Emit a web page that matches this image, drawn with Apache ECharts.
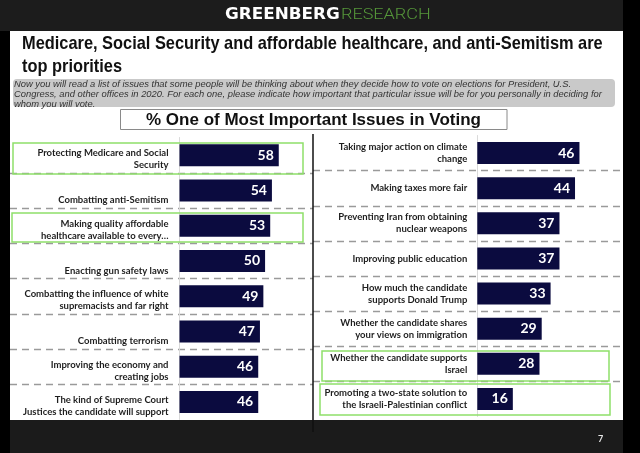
<!DOCTYPE html>
<html>
<head>
<meta charset="utf-8">
<title>Most Important Issues in Voting</title>
<script src="https://cdn.jsdelivr.net/npm/echarts@6/dist/echarts.min.js"></script>
<style>
  html, body { margin: 0; padding: 0; background: #000; }
  #chart { width: 640px; height: 453px; }
</style>
</head>
<body>
<div id="chart"></div>
<script>
// left column, top to bottom
const leftIssues = [
  'Protecting Medicare and Social\nSecurity',
  'Combatting anti-Semitism',
  'Making quality affordable\nhealthcare available to every…',
  'Enacting gun safety laws',
  'Combatting the influence of white\nsupremacists and far right',
  'Combatting terrorism',
  'Improving the economy and\ncreating jobs',
  'The kind of Supreme Court\nJustices the candidate will support'
];
const leftValues = [58, 54, 53, 50, 49, 47, 46, 46];

// right column, top to bottom
const rightIssues = [
  'Taking major action on climate\nchange',
  'Making taxes more fair',
  'Preventing Iran from obtaining\nnuclear weapons',
  'Improving public education',
  'How much the candidate\nsupports Donald Trump',
  'Whether the candidate shares\nyour views on immigration',
  'Whether the candidate supports\nIsrael',
  'Promoting a two-state solution to\nthe Israeli-Palestinian conflict'
];
const rightValues = [46, 44, 37, 37, 33, 29, 28, 16];

const titleLines = [
  'Medicare, Social Security and affordable healthcare, and anti-Semitism are',
  'top priorities'
];
const questionText = [
  'Now you will read a list of issues that some people will be thinking about when they decide how to vote on elections for President, U.S.',
  'Congress, and other offices in 2020. For each one, please indicate how important that particular issue will be for you personally in deciding for',
  'whom you will vote.'
].join('\n');
const chartHeading = '% One of Most Important Issues in Voting';

const BAR = '#0b0b3f';
const GREEN = '#8fe06a';
const ARIAL = "'Liberation Sans', Arial, sans-serif";
const LABEL_FONT = "Lato, 'Open Sans', sans-serif";

const chart = echarts.init(document.getElementById('chart'));

// bar grids start right at the bars, the dash grids span the whole half
const leftTop = 137.5, rightTop = 135.5;

function labelAxis(gridIndex, data, margin, fmt) {
  return {
    type: 'category',
    gridIndex: gridIndex,
    data: data,
    inverse: true,
    axisTick: { show: false },
    axisLine: { show: true, lineStyle: { color: '#dadada', width: 1 } },
    axisLabel: {
      margin: margin,
      color: '#1e1e1e',
      fontFamily: LABEL_FONT,
      fontWeight: 'bold',
      fontSize: 9.5,
      lineHeight: 12,
      align: 'right',
      formatter: fmt,
      rich: {
        g8: { fontSize: 1, lineHeight: 8 },
        g20: { fontSize: 1, lineHeight: 20 }
      }
    },
    splitLine: { show: false }
  };
}

function dashAxis(gridIndex, data) {
  return {
    type: 'category',
    gridIndex: gridIndex,
    data: data,
    inverse: true,
    axisTick: { show: false },
    axisLine: { show: false },
    axisLabel: { show: false },
    splitLine: {
      show: true,
      showMinLine: false,
      showMaxLine: false,
      lineStyle: { color: '#9a9a9a', width: 1.3, type: [7, 5] }
    }
  };
}

function barSeries(idx, values) {
  return {
    type: 'bar',
    xAxisIndex: idx,
    yAxisIndex: idx,
    data: values,
    barWidth: 22,
    itemStyle: { color: BAR },
    label: {
      show: true,
      position: 'insideRight',
      distance: 5,
      color: '#fff',
      fontFamily: LABEL_FONT,
      fontWeight: 'bold',
      fontSize: 14
    },
    silent: true
  };
}

chart.setOption({
  backgroundColor: '#000',
  animation: false,
  grid: [
    { left: 179.5, top: leftTop, width: 133.5, height: 282, outerBoundsMode: 'none' },
    { left: 477.3, top: rightTop, width: 145.7, height: 281, outerBoundsMode: 'none' },
    { left: 10, top: leftTop, width: 303, height: 282, outerBoundsMode: 'none' },
    { left: 313, top: rightTop, width: 310, height: 281, outerBoundsMode: 'none' }
  ],
  xAxis: [
    { type: 'value', gridIndex: 0, min: 0, max: 78, show: false },
    { type: 'value', gridIndex: 1, min: 0, max: 65.6, show: false },
    { type: 'value', gridIndex: 2, show: false },
    { type: 'value', gridIndex: 3, show: false }
  ],
  yAxis: [
    // left labels sit low in their row, single lines on the lower line
    labelAxis(0, leftIssues, 11, v => (v.indexOf('\n') < 0 ? '{g20| }\n' + v : '{g8| }\n' + v)),
    labelAxis(1, rightIssues, 10, v => v),
    dashAxis(2, leftIssues),
    dashAxis(3, rightIssues)
  ],
  series: [
    barSeries(0, leftValues),
    barSeries(1, rightValues)
  ],
  graphic: [
    // slide frame
    { type: 'rect', z: -10, shape: { x: 0, y: 0, width: 623, height: 31 }, style: { fill: '#1c1c1c' } },
    { type: 'rect', z: -10, shape: { x: 10, y: 31, width: 613, height: 389 }, style: { fill: '#fff' } },
    { type: 'rect', z: -10, shape: { x: 10, y: 420, width: 613, height: 33 }, style: { fill: '#1b1b1b' } },
    {
      type: 'text', x: 225, y: 15, scaleX: 1.12, z: 5,
      style: { text: 'GREENBERG', fill: '#fff', font: "bold 15px 'DejaVu Sans', sans-serif", align: 'left', verticalAlign: 'middle' }
    },
    {
      type: 'text', x: 341, y: 15, scaleX: 1.2, z: 5,
      style: { text: 'RESEARCH', fill: '#56983a', font: "300 15px Roboto, Lato, sans-serif", align: 'left', verticalAlign: 'middle' }
    },
    {
      type: 'text', x: 22, y: 44, scaleX: 0.862, z: 5,
      style: { text: titleLines[0], fill: '#111', font: 'bold 19px ' + ARIAL, align: 'left', verticalAlign: 'middle' }
    },
    {
      type: 'text', x: 22, y: 66.5, scaleX: 0.862, z: 5,
      style: { text: titleLines[1], fill: '#111', font: 'bold 19px ' + ARIAL, align: 'left', verticalAlign: 'middle' }
    },
    { type: 'rect', z: 1, shape: { x: 13, y: 79, width: 602, height: 28, r: 4 }, style: { fill: '#c9c9c9' } },
    {
      type: 'text', x: 14, y: 79, z: 5,
      style: {
        text: questionText, fill: '#333', font: 'italic 9.4px ' + ARIAL,
        lineHeight: 10, align: 'left', verticalAlign: 'top'
      }
    },
    { type: 'rect', z: 5, shape: { x: 120.5, y: 109.5, width: 386.5, height: 20 }, style: { fill: '#fff', stroke: '#8a8a8a', lineWidth: 1 } },
    {
      type: 'text', x: 313.5, y: 120, z: 6,
      style: { text: chartHeading, fill: '#111', font: 'bold 17px ' + ARIAL, align: 'center', verticalAlign: 'middle' }
    },
    // column divider
    { type: 'line', z: 6, shape: { x1: 313, y1: 134, x2: 313, y2: 432 }, style: { stroke: '#111', lineWidth: 1.5 } },
    // highlight boxes
    { type: 'rect', z: 10, shape: { x: 13, y: 143, width: 290, height: 31 }, style: { fill: 'none', stroke: GREEN, lineWidth: 1.5 } },
    { type: 'rect', z: 10, shape: { x: 12, y: 213, width: 291, height: 29 }, style: { fill: 'none', stroke: GREEN, lineWidth: 1.5 } },
    { type: 'rect', z: 10, shape: { x: 322, y: 351, width: 287, height: 30 }, style: { fill: 'none', stroke: GREEN, lineWidth: 1.5 } },
    { type: 'rect', z: 10, shape: { x: 320, y: 384, width: 290, height: 31 }, style: { fill: 'none', stroke: GREEN, lineWidth: 1.5 } },
    {
      type: 'text', x: 598, y: 439, z: 5,
      style: { text: '7', fill: '#e8e8e8', font: 'bold 9px Lato, sans-serif', align: 'left', verticalAlign: 'middle' }
    }
  ]
});
</script>
</body>
</html>
